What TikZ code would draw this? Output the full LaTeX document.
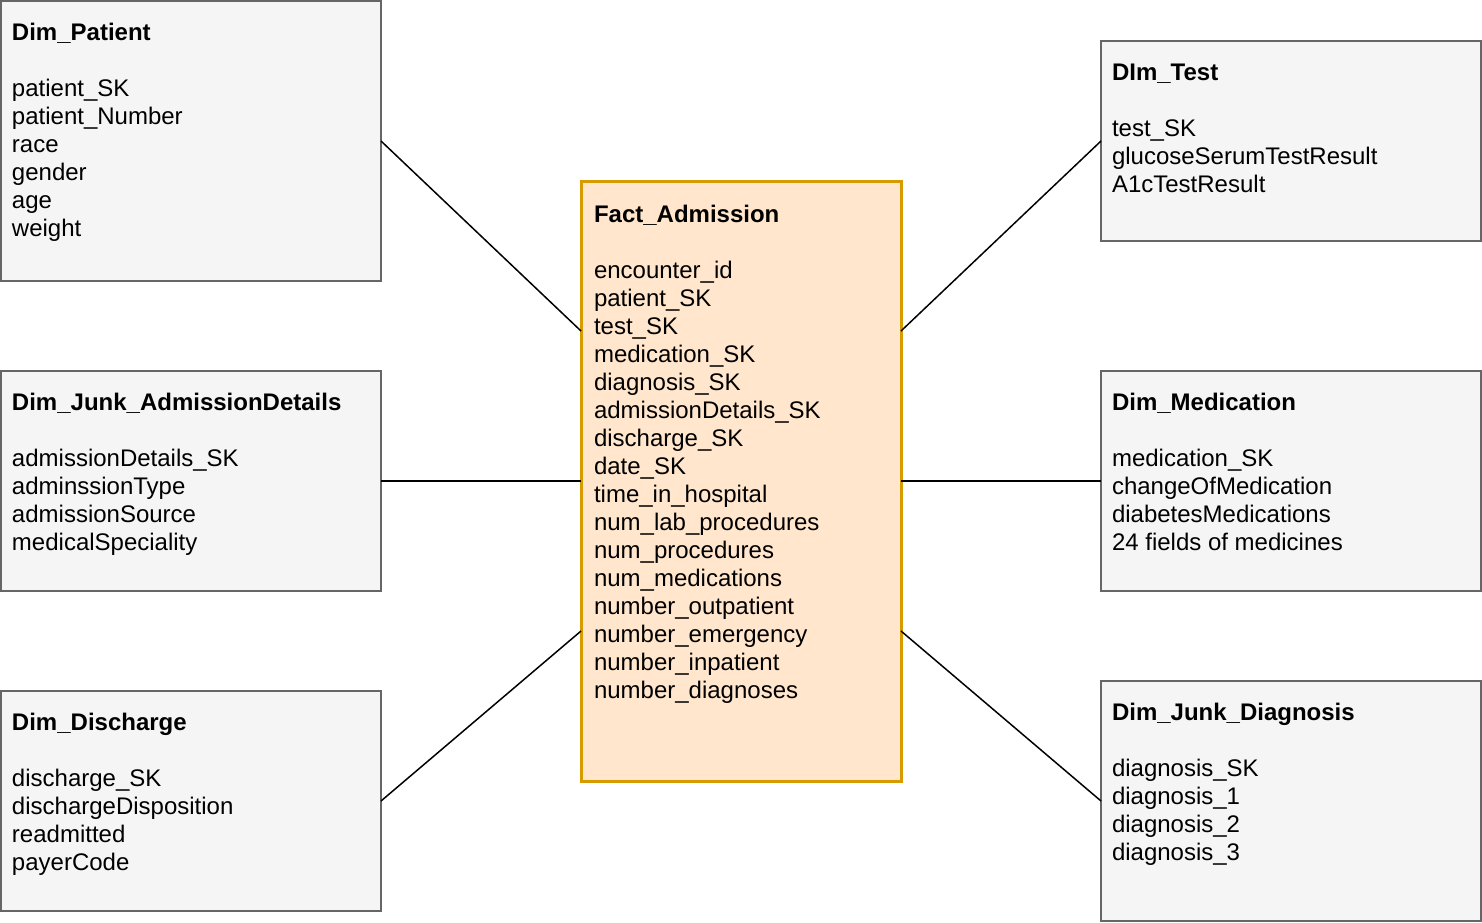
\documentclass[tikz,border=0pt]{standalone}
\usepackage{fontspec}
\setmainfont{Liberation Sans}
\usetikzlibrary{calc}
\definecolor{dimfill}{HTML}{F5F5F5}
\definecolor{dimline}{HTML}{666666}
\definecolor{factfill}{HTML}{FFE6CC}
\definecolor{factline}{HTML}{D79B00}
\tikzset{
  dimbox/.style={draw=dimline, fill=dimfill, line width=2pt, rectangle, inner sep=0pt, outer sep=0pt},
  factbox/.style={draw=factline, fill=factfill, line width=3pt, rectangle, inner sep=0pt, outer sep=0pt},
  boxtext/.style={anchor=north west, align=left, inner sep=0pt, outer sep=0pt,
    font=\fontsize{24}{28}\selectfont},
  link/.style={draw=black, line width=1.5pt}
}
\newcommand{\firstln}{\rule{0pt}{21pt}}
\begin{document}
\begin{tikzpicture}[x=1pt,y=-1pt]
\useasboundingbox (0,0) rectangle (1482,922);
% boxes
\node[dimbox, minimum width=380pt, minimum height=280pt] (patient) at (191,141) {};
\node[dimbox, minimum width=380pt, minimum height=220pt] (admission) at (191,481) {};
\node[dimbox, minimum width=380pt, minimum height=220pt] (discharge) at (191,801) {};
\node[factbox, minimum width=320pt, minimum height=600pt] (fact) at (741,481) {};
\node[dimbox, minimum width=380pt, minimum height=200pt] (test) at (1291,141) {};
\node[dimbox, minimum width=380pt, minimum height=220pt] (medication) at (1291,481) {};
\node[dimbox, minimum width=380pt, minimum height=240pt] (diagnosis) at (1291,801) {};
% texts
\node[boxtext] (patientT) at (12,19) {\firstln\textbf{Dim\_Patient}\\[28pt]
patient\_SK\\ patient\_Number\\ race\\ gender\\ age\\ weight};
\node[boxtext] (admissionT) at (12,389) {\firstln\textbf{Dim\_Junk\_AdmissionDetails}\\[28pt]
admissionDetails\_SK\\ adminssionType\\ admissionSource\\ medicalSpeciality};
\node[boxtext] (dischargeT) at (12,709) {\firstln\textbf{Dim\_Discharge}\\[28pt]
discharge\_SK\\ dischargeDisposition\\ readmitted\\ payerCode};
\node[boxtext] (factT) at (594,201) {\firstln\textbf{Fact\_Admission}\\[28pt]
encounter\_id\\ patient\_SK\\ test\_SK\\ medication\_SK\\ diagnosis\_SK\\ admissionDetails\_SK\\
discharge\_SK\\ date\_SK\\ time\_in\_hospital\\ num\_lab\_procedures\\ num\_procedures\\
num\_medications\\ number\_outpatient\\ number\_emergency\\ number\_inpatient\\ number\_diagnoses};
\node[boxtext] (testT) at (1112,59) {\firstln\textbf{DIm\_Test}\\[28pt]
test\_SK\\ glucoseSerumTestResult\\ A1cTestResult};
\node[boxtext] (medicationT) at (1112,389) {\firstln\textbf{Dim\_Medication}\\[28pt]
medication\_SK\\ changeOfMedication\\ diabetesMedications\\ 24 fields of medicines};
\node[boxtext] (diagnosisT) at (1112,699) {\firstln\textbf{Dim\_Junk\_Diagnosis}\\[28pt]
diagnosis\_SK\\ diagnosis\_1\\ diagnosis\_2\\ diagnosis\_3};
% connectors
\draw[link] (patient.east) -- ($(fact.north west)!0.25!(fact.south west)$);
\draw[link] (admission.east) -- (fact.west);
\draw[link] (discharge.east) -- ($(fact.north west)!0.75!(fact.south west)$);
\draw[link] (test.west) -- ($(fact.north east)!0.25!(fact.south east)$);
\draw[link] (medication.west) -- (fact.east);
\draw[link] (diagnosis.west) -- ($(fact.north east)!0.75!(fact.south east)$);
\end{tikzpicture}
\end{document}
